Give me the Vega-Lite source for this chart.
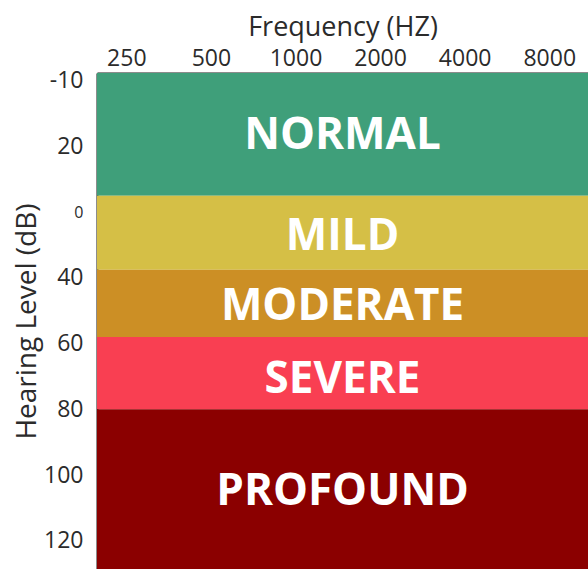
{
  "$schema": "https://vega.github.io/schema/vega-lite/v6.json",
  "width": 491,
  "height": 496,
  "autosize": {"type": "none"},
  "padding": {"left": 97, "top": 73, "right": 0, "bottom": 0},
  "background": "white",
  "view": {"stroke": null},
  "config": {
    "font": "Open Sans",
    "axis": {
      "grid": false,
      "ticks": false,
      "tickSize": 0,
      "domainColor": "#1a1a1a",
      "domainWidth": 2,
      "labelColor": "#2b2b2b",
      "titleColor": "#2b2b2b",
      "labelFont": "Open Sans",
      "titleFont": "Open Sans",
      "titleFontWeight": "normal",
      "zindex": 1
    }
  },
  "layer": [
    {
      "data": {
        "values": [
          {"level": "NORMAL", "top": -12.4, "bottom": 25, "mid": 6.7},
          {"level": "MILD", "top": 25, "bottom": 47.5, "mid": 37.5},
          {"level": "MODERATE", "top": 47.5, "bottom": 68, "mid": 58.8},
          {"level": "SEVERE", "top": 68, "bottom": 90, "mid": 81},
          {"level": "PROFOUND", "top": 90, "bottom": 138.6, "mid": 115.1}
        ]
      },
      "layer": [
        {
          "mark": {"type": "rect"},
          "encoding": {
            "y": {
              "field": "top",
              "type": "quantitative",
              "scale": {"domain": [-12.4, 138.6], "nice": false, "zero": false, "reverse": true},
              "axis": {
                "orient": "left",
                "title": "Hearing Level (dB)",
                "titleFontSize": 28,
                "titlePadding": 2,
                "labelFontSize": {"condition": {"test": "datum.value === 30", "value": 16}, "value": 23},
                "labelPadding": 14,
                "values": [-10, 10, 30, 50, 70, 90, 110, 130],
                "labelExpr": "datum.value === -10 ? '-10' : datum.value === 10 ? '20' : datum.value === 30 ? '0' : datum.value === 50 ? '40' : datum.value === 70 ? '60' : datum.value === 90 ? '80' : datum.value === 110 ? '100' : '120'"
              }
            },
            "y2": {"field": "bottom"},
            "color": {
              "field": "level",
              "type": "nominal",
              "scale": {
                "domain": ["NORMAL", "MILD", "MODERATE", "SEVERE", "PROFOUND"],
                "range": ["#3f9f7a", "#d5bf46", "#cc8f25", "#f93f52", "#8b0000"]
              },
              "legend": null
            }
          }
        },
        {
          "mark": {"type": "text", "color": "white", "font": "Open Sans", "fontWeight": "bold", "fontSize": 44, "baseline": "middle", "align": "center"},
          "encoding": {
            "y": {"field": "mid", "type": "quantitative"},
            "text": {"field": "level"}
          }
        }
      ]
    },
    {
      "data": {
        "values": [
          {"freq": 250}, {"freq": 500}, {"freq": 1000},
          {"freq": 2000}, {"freq": 4000}, {"freq": 8000}
        ]
      },
      "mark": {"type": "point", "opacity": 0},
      "encoding": {
        "x": {
          "field": "freq",
          "type": "quantitative",
          "scale": {"type": "log", "base": 2, "domain": [196.6, 10990], "nice": false},
          "axis": {
            "orient": "top",
            "title": "Frequency (HZ)",
            "titleFontSize": 27,
            "titlePadding": 6,
            "labelFontSize": 23,
            "labelPadding": 3,
            "values": [250, 500, 1000, 2000, 4000, 8000],
            "format": "d"
          }
        }
      }
    }
  ]
}
